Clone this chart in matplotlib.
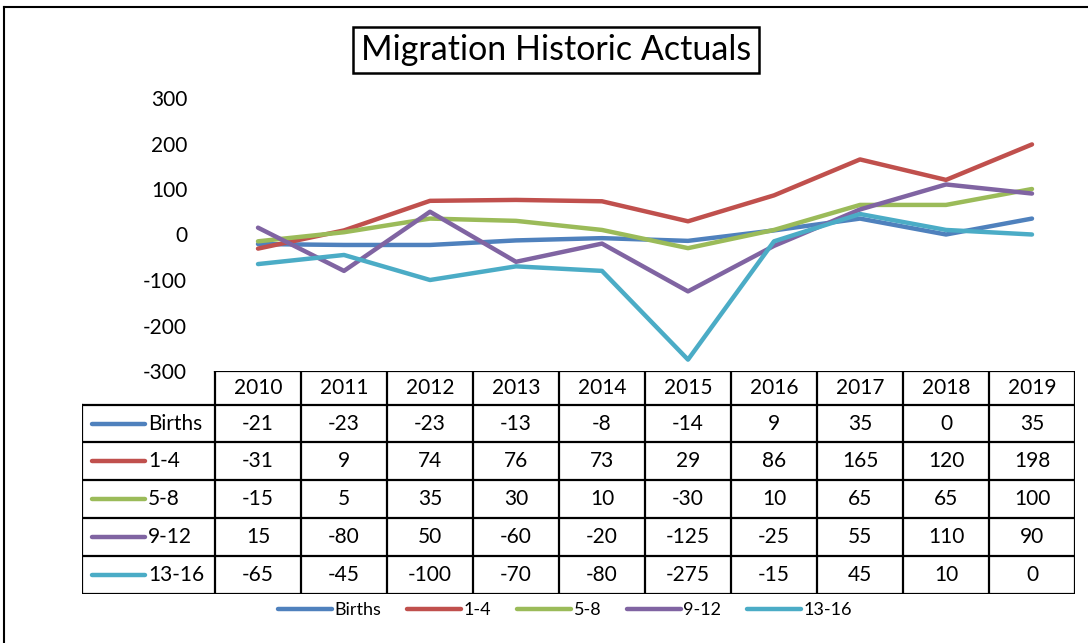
import matplotlib
matplotlib.use("Agg")
import matplotlib.pyplot as plt
from matplotlib.lines import Line2D

plt.rcParams["font.family"] = ["Lato", "DejaVu Sans"]

years = ["2010", "2011", "2012", "2013", "2014", "2015", "2016", "2017", "2018", "2019"]
births = [-21, -23, -23, -13, -8, -14, 9, 35, 0, 35]
ages_1_4 = [-31, 9, 74, 76, 73, 29, 86, 165, 120, 198]
ages_5_8 = [-15, 5, 35, 30, 10, -30, 10, 65, 65, 100]
ages_9_12 = [15, -80, 50, -60, -20, -125, -25, 55, 110, 90]
ages_13_16 = [-65, -45, -100, -70, -80, -275, -15, 45, 10, 0]

series_names = ["Births", "1-4", "5-8", "9-12", "13-16"]
series_values = [births, ages_1_4, ages_5_8, ages_9_12, ages_13_16]
colors = ["#4F81BD", "#C0504D", "#9BBB59", "#8064A2", "#4BACC6"]
y_ticks = [300, 200, 100, 0, -100, -200, -300]

W, H = 1088, 643
fig = plt.figure(figsize=(W / 100, H / 100), dpi=100)


def px_rect(x0, y0, x1, y1):
    return [x0 / W, 1 - y1 / H, (x1 - x0) / W, (y1 - y0) / H]


# outer chart frame (left and top edges visible)
fig.add_artist(Line2D([4 / W, 4 / W], [0, 1 - 7 / H], color="black", lw=1.5))
fig.add_artist(Line2D([4 / W, 1], [1 - 7 / H, 1 - 7 / H], color="black", lw=1.5))

# title with box
fig.text(556 / W, 1 - 50 / H, "Migration Historic Actuals", ha="center", va="center",
         fontsize=24.5,
         bbox=dict(boxstyle="square,pad=0.22", fc="white", ec="black", lw=1.8))

# line plot area
ax = fig.add_axes(px_rect(215, 98, 1075, 371))
x = list(range(len(years)))
for name, vals, c in zip(series_names, series_values, colors):
    ax.plot(x, vals, color=c, lw=3.2, label=name, solid_capstyle="round")
ax.set_xlim(-0.5, len(years) - 0.5)
ax.set_ylim(-300, 300)
ax.set_yticks(y_ticks)
ax.set_yticklabels([str(t) for t in y_ticks], fontsize=15)
ax.tick_params(axis="y", length=0, pad=20)
ax.set_xticks([])
for s in ax.spines.values():
    s.set_visible(False)
ax.patch.set_alpha(0)

# data table
tx = fig.add_axes(px_rect(82, 371, 1075, 594))
label_w = (215 - 82) / 86
tx.set_xlim(-0.5 - label_w, len(years) - 0.5)
row_edges = [371, 405, 442, 480, 518, 556, 594]
tx.set_ylim(594, 371)
tx.axis("off")
lw = 1.6
left = -0.5 - label_w
right = len(years) - 0.5
# horizontal lines
tx.plot([-0.5, right], [row_edges[0]] * 2, color="black", lw=lw)
for yy in row_edges[1:]:
    tx.plot([left, right], [yy, yy], color="black", lw=lw)
# vertical lines
tx.plot([left, left], [row_edges[1], row_edges[-1]], color="black", lw=lw)
for i in range(len(years) + 1):
    tx.plot([i - 0.5] * 2, [row_edges[0], row_edges[-1]], color="black", lw=lw)

fs = 15
for i, yr in enumerate(years):
    tx.text(i, (row_edges[0] + row_edges[1]) / 2, yr, ha="center", va="center", fontsize=fs)
for r, (name, vals, c) in enumerate(zip(series_names, series_values, colors)):
    yc = (row_edges[r + 1] + row_edges[r + 2]) / 2
    tx.plot([left + 10 / 86, left + 63 / 86], [yc, yc], color=c, lw=3.2,
            solid_capstyle="round")
    tx.text(left + 66 / 86, yc, name, ha="left", va="center", fontsize=fs)
    for i, v in enumerate(vals):
        tx.text(i, yc, str(v), ha="center", va="center", fontsize=fs)

# legend below
handles, labels = ax.get_legend_handles_labels()
fig.legend(handles, labels, loc="center", bbox_to_anchor=(565 / W, 1 - 610 / H),
           ncol=5, frameon=False, fontsize=13, handlelength=3.0,
           handletextpad=0.15, columnspacing=1.4)

fig.savefig("out.png", dpi=100)
